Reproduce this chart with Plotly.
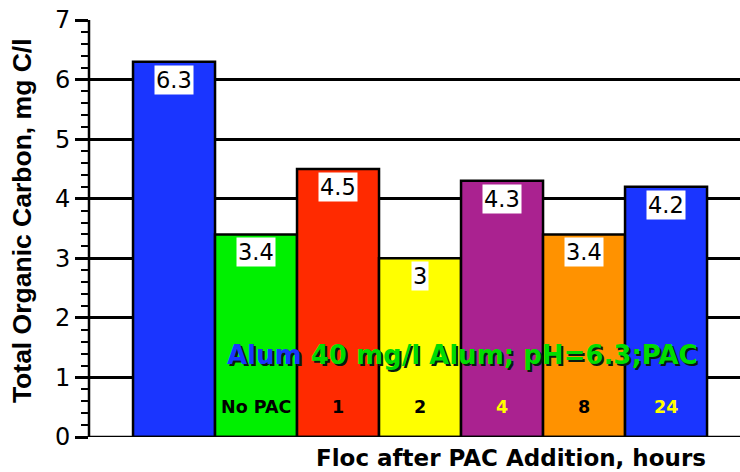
import plotly.graph_objects as go

# TOC after flocculation, grouped by hours after PAC addition
categories = ["Alum", "No PAC", "1", "2", "4", "8", "24"]
toc_values = [6.3, 3.4, 4.5, 3.0, 4.3, 3.4, 4.2]
value_labels = ["6.3", "3.4", "4.5", "3", "4.3", "3.4", "4.2"]
bar_colors = ["#1a35ff", "#00f000", "#ff2a00", "#ffff00", "#aa2290", "#ff9200", "#1a35ff"]
hour_labels = ["", "No PAC", "1", "2", "4", "8", "24"]
hour_label_colors = ["black", "black", "black", "black", "#ffff00", "black", "#ffff00"]

y_ticks = [0, 1, 2, 3, 4, 5, 6, 7]

x_pos = list(range(len(categories)))

fig = go.Figure()
fig.add_trace(go.Bar(
    x=x_pos, y=toc_values, width=1.0,
    marker=dict(color=bar_colors, line=dict(color="black", width=2.5)),
    hoverinfo="skip",
))

annotations = []
# value boxes at the top of each bar
for xi, v, lab in zip(x_pos, toc_values, value_labels):
    annotations.append(dict(
        x=xi, y=v, xref="x", yref="y", text=lab, showarrow=False,
        yanchor="top", yshift=-3, bgcolor="white", borderpad=1,
        font=dict(family="DejaVu Sans", size=22.5, color="black"),
    ))
# hours labels inside bars
for xi, lab, col in zip(x_pos, hour_labels, hour_label_colors):
    if lab:
        annotations.append(dict(
            x=xi, y=0.5, xref="x", yref="y", text=f"<b>{lab}</b>", showarrow=False,
            font=dict(family="DejaVu Sans", size=17.5, color=col),
        ))

# treatment caption with drop shadow
annotations.append(dict(
    x=3.52, y=1.37, xref="x", yref="y", showarrow=False,
    text="<b><span style='color:#1a35ff'>Alum</span> 40 mg/l Alum; pH=6.3;PAC</b>",
    font=dict(family="DejaVu Sans", size=26, color="#00dd00",
              shadow="2px 2px 0px #0a1a10"),
))

# axis titles
annotations.append(dict(
    x=-0.103, y=0.52, xref="paper", yref="paper", showarrow=False,
    xanchor="center", yanchor="middle",
    text="<b>Total Organic Carbon, mg C/l</b>", textangle=-90,
    font=dict(family="Liberation Sans", size=26.5, color="black"),
))
annotations.append(dict(
    x=0.648, y=-0.050, xref="paper", yref="paper", showarrow=False,
    xanchor="center", yanchor="middle",
    text="<b>Floc after PAC Addition, hours</b>",
    font=dict(family="DejaVu Sans", size=23, color="black"),
))

fig.update_layout(
    width=740, height=472,
    margin=dict(l=89, r=0, t=20, b=35),
    paper_bgcolor="white", plot_bgcolor="white",
    showlegend=False,
    annotations=annotations,
    xaxis=dict(
        range=[-1.037, 6.902], showticklabels=False, ticks="",
        showgrid=False, zeroline=False, showline=False, fixedrange=True,
    ),
    yaxis=dict(
        range=[0, 7], tickvals=y_ticks, ticktext=[str(t) for t in y_ticks],
        ticks="outside", ticklen=13, tickwidth=2.5, tickcolor="black",
        showgrid=True, gridcolor="black", gridwidth=2.5,
        zeroline=False, showline=False,
        tickfont=dict(family="DejaVu Sans", size=24, color="black"),
        minor=dict(dtick=0.2, ticks="outside", ticklen=7, tickwidth=2,
                   tickcolor="black", showgrid=False),
        fixedrange=True,
    ),
)

# axis lines: y axis runs a little below zero, x axis along zero
fig.add_shape(type="line", xref="paper", yref="y", x0=0, x1=0, y0=-0.23, y1=7,
              line=dict(color="black", width=2.5))
fig.add_shape(type="line", xref="paper", yref="y", x0=0, x1=1, y0=0, y1=0,
              line=dict(color="black", width=2.5))

fig.write_html("out.html")
